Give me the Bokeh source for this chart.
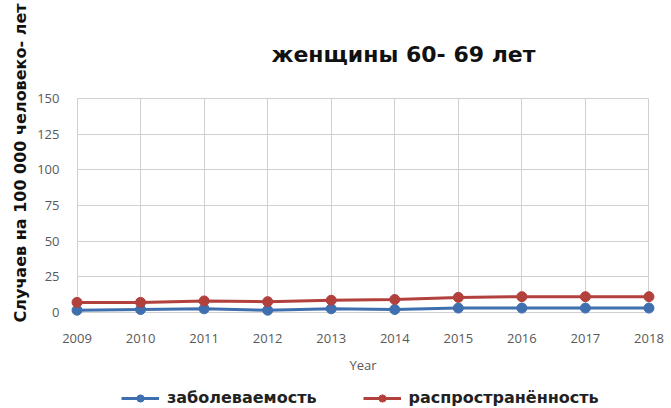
import math
from bokeh.plotting import figure
from bokeh.layouts import column
from bokeh.models import Range1d, Legend, LegendItem, FixedTicker, Title
from bokeh.embed import file_html
from bokeh.resources import INLINE

years = [2009, 2010, 2011, 2012, 2013, 2014, 2015, 2016, 2017, 2018]
incidence = [1.5, 2.0, 2.5, 1.5, 2.5, 2.0, 3.0, 3.0, 3.0, 3.0]
prevalence = [7.0, 7.0, 8.0, 7.5, 8.5, 9.0, 10.5, 11.0, 11.0, 11.0]
y_ticks = [0, 25, 50, 75, 100, 125, 150]
title_text = "женщины 60- 69 лет"
y_label = "Случаев на 100 000 человеко- лет"
x_label = "Year"
names = ["заболеваемость", "распространённость"]

BLUE = "#3F6FAE"
RED = "#B2403D"

p = figure(width=671, height=379, output_backend="svg", toolbar_location=None,
           x_range=Range1d(2008.85, 2018.15), y_range=Range1d(-5, 152),
           min_border_left=67, min_border_right=13, min_border_top=95, min_border_bottom=60)
p.outline_line_color = None
p.background_fill_color = "white"
p.border_fill_color = "white"

p.title.text = title_text
p.title.align = "left"
p.title.offset = 204
p.title.text_font = "DejaVu Sans"
p.title.text_font_style = "bold"
p.title.text_font_size = "22px"
p.title.text_color = "#111111"
p.title.standoff = 57

ytitle = Title(text=y_label, align="left", offset=-3, text_font="DejaVu Sans",
               text_font_style="bold", text_font_size="16px", text_color="#111111")
p.add_layout(ytitle, "left")

p.xaxis.ticker = FixedTicker(ticks=years)
p.yaxis.ticker = FixedTicker(ticks=y_ticks)
for ax in (p.xaxis[0], p.yaxis[0]):
    ax.axis_line_color = None
    ax.major_tick_line_color = None
    ax.minor_tick_line_color = None
    ax.major_label_text_font = "Open Sans"
    ax.major_label_text_font_size = "13px"
    ax.major_label_text_color = "#595959"
p.yaxis.major_label_standoff = 2
p.xaxis.major_label_standoff = 8
p.xaxis.axis_label = x_label
p.xaxis.axis_label_text_font = "Open Sans"
p.xaxis.axis_label_text_font_style = "normal"
p.xaxis.axis_label_text_font_size = "13px"
p.xaxis.axis_label_text_color = "#595959"
p.xaxis.axis_label_standoff = 10

p.xgrid.grid_line_color = "#D0D0D0"
p.ygrid.grid_line_color = "#D0D0D0"
try:
    p.xgrid.cross_bounds = (0, 150)
    p.ygrid.cross_bounds = (2009, 2018)
except Exception:
    pass

p.line(years, incidence, line_color=BLUE, line_width=3)
p.scatter(years, incidence, size=10, fill_color=BLUE, line_color=BLUE)
p.line(years, prevalence, line_color=RED, line_width=3)
p.scatter(years, prevalence, size=10, fill_color=RED, line_color=RED)

# legend strip below the chart (series drawn off-range so only legend samples show)
q = figure(width=671, height=29, output_backend="svg", toolbar_location=None,
           x_range=Range1d(0, 1), y_range=Range1d(0, 1),
           min_border_left=0, min_border_right=0, min_border_top=0, min_border_bottom=0)
q.axis.visible = False
q.grid.visible = False
q.outline_line_color = None
q.border_fill_color = "white"
l1 = q.line(years, incidence, line_color=BLUE, line_width=3)
m1 = q.scatter(years, incidence, size=10, fill_color=BLUE, line_color=BLUE)
l2 = q.line(years, prevalence, line_color=RED, line_width=3)
m2 = q.scatter(years, prevalence, size=10, fill_color=RED, line_color=RED)
legend = Legend(items=[LegendItem(label=names[0], renderers=[l1, m1]),
                       LegendItem(label=names[1], renderers=[l2, m2])],
                orientation="horizontal", location=(54, 1),
                border_line_color=None, background_fill_alpha=0,
                label_text_font="DejaVu Sans", label_text_font_style="bold",
                label_text_font_size="16px", label_text_color="#222222",
                glyph_width=38, glyph_height=18, label_standoff=8, spacing=46,
                padding=0, margin=0, label_height=18)
q.add_layout(legend, "center")

layout = column(p, q, spacing=0)
open("out.html", "w").write(file_html(layout, INLINE))
